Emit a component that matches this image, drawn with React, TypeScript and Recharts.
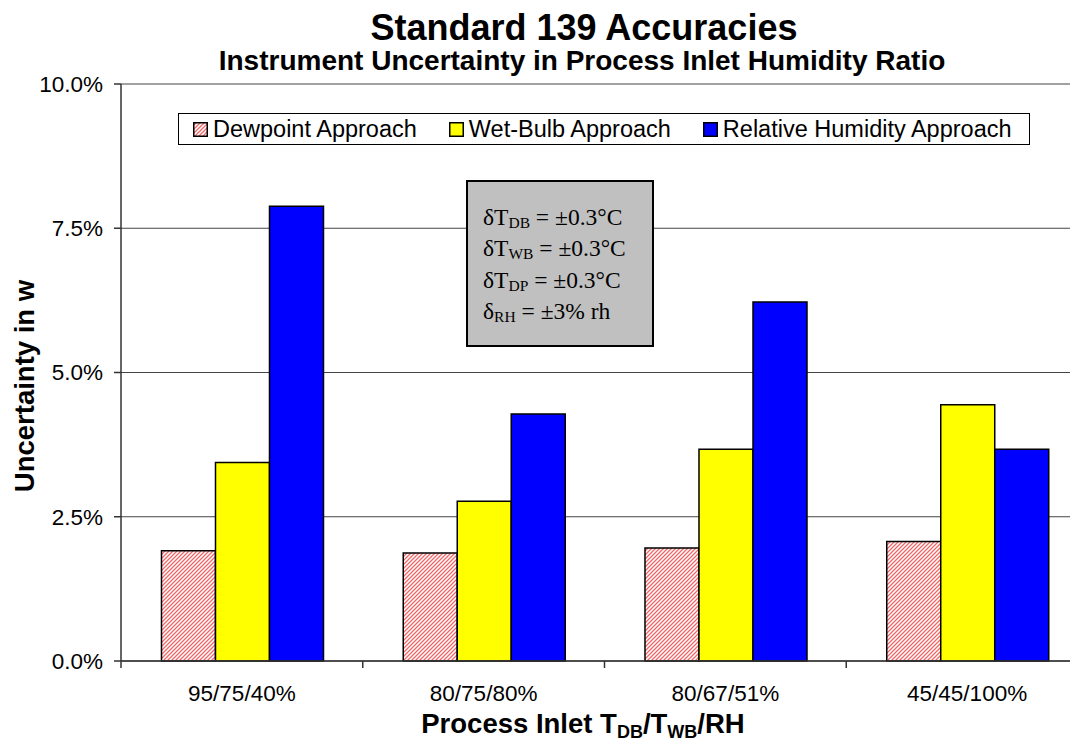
import React from 'react'
import { BarChart, Bar, XAxis, YAxis, CartesianGrid } from 'recharts'

const categories = ['95/75/40%', '80/75/80%', '80/67/51%', '45/45/100%']
const dewpoint = [0.0191, 0.0187, 0.0196, 0.0207]
const wetBulb = [0.0344, 0.0277, 0.0367, 0.0444]
const relHumidity = [0.0788, 0.0428, 0.0622, 0.0367]
const yTicks = [0, 0.025, 0.05, 0.075, 0.1]

const data = categories.map((name, i) => ({
  name,
  dew: dewpoint[i],
  wb: wetBulb[i],
  rh: relHumidity[i],
}))

const SANS = '"Liberation Sans", Arial, sans-serif'
const SERIF = '"Liberation Serif", "Times New Roman", serif'

// category label plus the tick marks between groups (Excel style)
const CategoryTick = (props: any) => {
  const { x, y, payload, index, width } = props
  const band = width / categories.length
  const left = x - band / 2
  return (
    <g>
      <line x1={left} x2={left} y1={y} y2={y + 7} stroke="#333" strokeWidth={1.5} />
      {index === categories.length - 1 && (
        <line x1={x + band / 2} x2={x + band / 2} y1={y} y2={y + 7} stroke="#333" strokeWidth={1.5} />
      )}
      <text x={x} y={y + 40} textAnchor="middle" fill="#000" fontSize={22.5} fontFamily={SANS}>
        {payload.value}
      </text>
    </g>
  )
}

const legendItems = [
  { label: 'Dewpoint Approach', fill: 'url(#hatch)' },
  { label: 'Wet-Bulb Approach', fill: '#ffff00' },
  { label: 'Relative Humidity Approach', fill: '#0000ff' },
]

const deltaLines = [
  { sym: 'δT', sub: 'DB', rest: ' = ±0.3°C' },
  { sym: 'δT', sub: 'WB', rest: ' = ±0.3°C' },
  { sym: 'δT', sub: 'DP', rest: ' = ±0.3°C' },
  { sym: 'δ', sub: 'RH', rest: ' = ±3% rh' },
]

export default function App() {
  return (
    <div style={{ position: 'relative', width: 1078, height: 746, margin: -8, overflow: 'hidden', background: '#fff', fontFamily: SANS }}>
      <svg width={0} height={0} style={{ position: 'absolute' }}>
        <defs>
          <pattern id="hatch" patternUnits="userSpaceOnUse" width={4} height={4}>
            <rect width={4} height={4} fill="#ffffff" />
            <path d="M-1,1 l2,-2 M0,4 l4,-4 M3,5 l2,-2" stroke="#f06868" strokeWidth={1.3} />
          </pattern>
        </defs>
      </svg>

      <div style={{ position: 'absolute', left: 0, width: 1168, top: 11, textAlign: 'center', fontWeight: 'bold', fontSize: 36, lineHeight: '34px' }}>
        Standard 139 Accuracies
      </div>
      <div style={{ position: 'absolute', left: 0, width: 1164, top: 47, textAlign: 'center', fontWeight: 'bold', fontSize: 28, lineHeight: '28px' }}>
        Instrument Uncertainty in Process Inlet Humidity Ratio
      </div>

      <BarChart
        width={1100}
        height={746}
        data={data}
        margin={{ top: 84, right: 12, bottom: 0, left: 0 }}
        barCategoryGap="16.75%"
        barGap={0}
      >
        <CartesianGrid vertical={false} stroke="#444" strokeWidth={1.2} />
        <XAxis
          dataKey="name"
          tickLine={false}
          tickSize={0}
          tickMargin={0}
          axisLine={{ stroke: '#333', strokeWidth: 1.5 }}
          tick={<CategoryTick />}
          interval={0}
          height={85}
        />
        <YAxis
          width={121}
          domain={[0, 0.1]}
          ticks={yTicks}
          tickFormatter={(v: number) => `${(v * 100).toFixed(1)}%`}
          tickSize={7}
          tickMargin={11}
          tickLine={{ stroke: '#333', strokeWidth: 1.5 }}
          axisLine={{ stroke: '#333', strokeWidth: 1.5 }}
          tick={{ fill: '#000', fontSize: 22.5, fontFamily: SANS }}
        />
        <Bar dataKey="dew" fill="url(#hatch)" stroke="#000" strokeWidth={1.5} isAnimationActive={false} />
        <Bar dataKey="wb" fill="#ffff00" stroke="#000" strokeWidth={1.5} isAnimationActive={false} />
        <Bar dataKey="rh" fill="#0000ff" stroke="#000" strokeWidth={1.5} isAnimationActive={false} />
      </BarChart>

      {/* legend */}
      <div style={{ position: 'absolute', left: 178, top: 113, width: 852, height: 32, border: '1.5px solid #000', background: '#fff', display: 'flex', alignItems: 'center', boxSizing: 'border-box', paddingLeft: 14, whiteSpace: 'nowrap' }}>
        {legendItems.map((it) => (
          <div key={it.label} style={{ display: 'flex', alignItems: 'center', flexShrink: 0, marginRight: 32, fontSize: 23.5, lineHeight: '28px' }}>
            <svg width={15} height={15} style={{ marginRight: 5, flexShrink: 0 }}>
              <rect x={0.75} y={0.75} width={13.5} height={13.5} fill={it.fill} stroke="#000" strokeWidth={1.5} />
            </svg>
            <span>{it.label}</span>
          </div>
        ))}
      </div>

      {/* annotation box */}
      <div style={{ position: 'absolute', left: 466, top: 180, width: 188, height: 167, boxSizing: 'border-box', background: '#c0c0c0', border: '2px solid #000', fontFamily: SERIF, fontSize: 23.5, paddingTop: 20.5, paddingLeft: 15 }}>
        {deltaLines.map((l, i) => (
          <div key={i} style={{ lineHeight: '28.5px', whiteSpace: 'nowrap' }}>
            {l.sym}
            <span style={{ fontSize: 15.5, position: 'relative', top: 3 }}>{l.sub}</span>
            {l.rest}
          </div>
        ))}
      </div>

      {/* axis titles */}
      <div style={{ position: 'absolute', left: 25, top: 386, transform: 'translate(-50%, -50%) rotate(-90deg)', fontWeight: 'bold', fontSize: 27.5, whiteSpace: 'nowrap' }}>
        Uncertainty in w
      </div>
      <div style={{ position: 'absolute', left: 0, width: 1166, top: 708, textAlign: 'center', fontWeight: 'bold', fontSize: 27.5, lineHeight: '32px' }}>
        Process Inlet T<sub style={{ fontSize: 18, verticalAlign: -5, lineHeight: 0 }}>DB</sub>/T<sub style={{ fontSize: 18, verticalAlign: -5, lineHeight: 0 }}>WB</sub>/RH
      </div>
    </div>
  )
}
